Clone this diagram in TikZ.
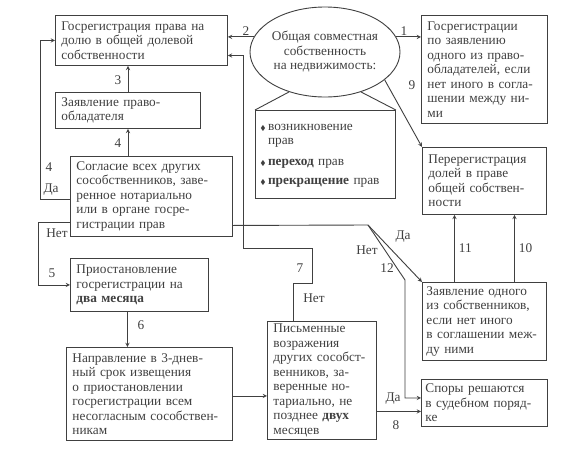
\documentclass[tikz,border=0pt]{standalone}
\usepackage{amssymb}
\usepackage{fontspec}
\setmainfont{Liberation Serif}
\usetikzlibrary{shapes.geometric}

\begin{document}
\begin{tikzpicture}[x=1pt, y=-1pt, line width=0.9pt, color=black!75,
		every node/.style={font=\fontsize{13.3}{14.5}\selectfont},
		box/.style={draw, anchor=north west, align=left, inner xsep=6pt, inner ysep=2pt},
		lbl/.style={inner sep=1pt}]
			\useasboundingbox[fill=white] (0,0) rectangle (576,458);
			% boxes
			\node[box, text width=160pt, minimum height=50pt] (A) at (55,15) {Госрегистрация права на\\долю в общей долевой\\собственности};
			\node[box, text width=133pt, minimum height=36pt] (B) at (55,92) {Заявление право-\\обладателя};
			\node[box, text width=150pt, minimum height=80pt] (C) at (70,156) {Согласие всех других\\сособственников, заве-\\ренное нотариально\\или в органе госре-\\гистрации прав};
			\node[box, text width=126pt, minimum height=53pt] (D) at (70,258) {Приостановление\\госрегистрации на\\\textbf{два месяца}};
			\node[box, text width=154pt, minimum height=93pt] (E) at (66,347) {Направление в 3-днев-\\ный срок извещения\\о приостановлении\\госрегистрации всем\\несогласным сособствен-\\никам};
			\node[box, text width=97pt, minimum height=118pt] (F) at (267,321) {Письменные\\возражения\\других сособст-\\венников, за-\\веренные но-\\тариально, не\\позднее \textbf{двух}\\месяцев};
			\node[box, text width=118pt, minimum height=47pt, inner xsep=4pt] (G) at (421,379) {Споры решаются\\в судебном поряд-\\ке};
			\node[box, text width=116pt, minimum height=78pt, inner xsep=4pt] (H) at (422,282) {Заявление одного\\из собственников,\\если нет иного\\в соглашении меж-\\ду ними};
			\node[box, text width=112pt, minimum height=67pt] (I) at (422,147) {Перерегистрация\\долей в праве\\общей собствен-\\ности};
			\node[box, text width=114pt, minimum height=108pt] (J) at (421,15) {Госрегистрации\\по заявлению\\одного из право-\\обладателей, если\\нет иного в согла-\\шении между ни-\\ми};
			\node[draw, ellipse, fill=white, minimum width=144pt, minimum height=90pt, inner sep=0pt, align=center] (ell) at (325,52) {Общая совместная\\собственность\\на недвижимость:};
			\node[box, text width=130pt, minimum height=88pt, inner xsep=5pt] (K) at (255,110) {\begin{tabular}{@{}l@{\,}l@{}}
					{\scriptsize$\blacklozenge$} & возникновение\\ & прав\\[6pt]
					{\scriptsize$\blacklozenge$} & \textbf{переход} прав\\[5pt]
					{\scriptsize$\blacklozenge$} & \textbf{прекращение} прав
				\end{tabular}};
			\draw (ell.-132) -- (K.north west);
			\draw (ell.-48) -- (K.north east);
			
			% connectors
			\draw[-stealth] (ell.12) -- (ell.12 -| J.west);
			\draw[-stealth] (ell.168) -- (ell.168 -| A.east);
			\draw[-stealth] (ell.-25) -- (I.north west);
			\draw[-stealth] (B.north) -- (B.north |- A.south);
			\draw[-stealth] (B.south |- C.north) -- (B.south);
			\draw[-stealth] ([yshift=-3pt]C.west) -| ([xshift=-15pt]A.west) -- (A.west);
			\draw[-stealth] ([yshift=-26pt]C.west) -| ([xshift=-32pt]D.west) -- (D.west);
			\draw[-stealth] ([xshift=-12pt]D.south) -- ([xshift=-12pt]D.south |- E.north);
			\draw[-stealth] ([yshift=-2pt]E.east) -- ([yshift=-2pt]E.east -| F.west);
			\draw[-stealth] ([yshift=-31pt]F.east) -- ([yshift=-31pt]F.east -| G.west);
			
			\coordinate (s7a) at (312,283);
			\coordinate (s7b) at (243,248);
			\draw[-stealth] ([xshift=-29pt]F.north) |- (s7a) |- (s7b) |- ([yshift=-15pt]A.east);
			
			\coordinate (fork) at (368,225);
			\coordinate (bend) at (405,280);
			\draw ([yshift=-29pt]C.east) -- (fork);
			\draw[-stealth] (fork) -- (H.north west);
			\draw[-stealth] (fork) -- (bend) |- ([yshift=5pt]G.west);
			
			\foreach [count=\i] \dx/\t in {-30/11, 30/10}
				\draw[-stealth] ([xshift=\dx pt]H.north) -- ([xshift=\dx pt]H.north |- I.south) node[lbl, midway, right=3pt] (n\i) {\t};
			
			% labels
			\foreach [count=\i] \x/\y/\t in {404/31/1, 246/31/2, 118/80/3, 118/143/4, 49/167/4, 51/190/Да, 57/233/Нет, 52/273/5, 141/325/6, 300/268/7, 314/298/Нет, 403/237/Да, 367/250/Нет, 387/268/12, 412/85/9, 393/399/Да, 396/425/8}
				\node[lbl] (lab\i) at (\x,\y) {\t};
		\end{tikzpicture}
\end{document}
